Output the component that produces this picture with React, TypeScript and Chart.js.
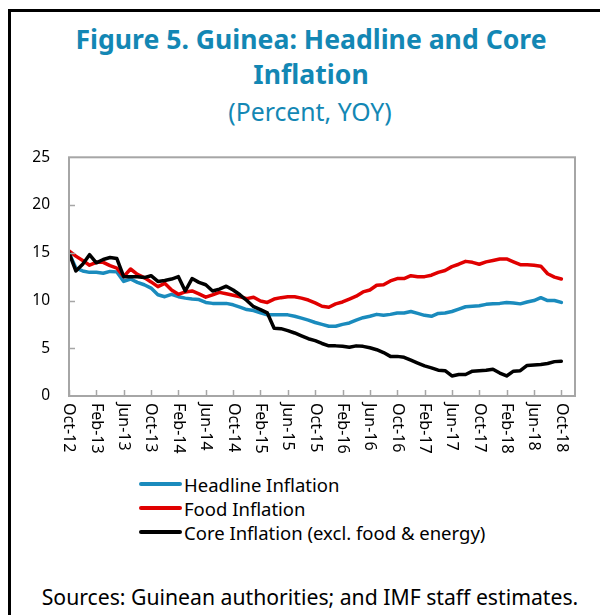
import React, { useEffect, useRef } from "react";
import { Chart, registerables } from "chart.js";

Chart.register(...registerables);

const tickLabels = [
  "Oct-12", "Feb-13", "Jun-13", "Oct-13", "Feb-14", "Jun-14", "Oct-14",
  "Feb-15", "Jun-15", "Oct-15", "Feb-16", "Jun-16", "Oct-16", "Feb-17",
  "Jun-17", "Oct-17", "Feb-18", "Jun-18", "Oct-18",
];
const tickStep = 4; // months between labelled ticks

const headline = [
  15.0, 13.4, 13.1, 12.95, 12.95, 12.85, 13.05, 13.0, 12.0, 12.25,
  11.9, 11.65, 11.3, 10.6, 10.4, 10.65, 10.4, 10.25, 10.15, 10.1,
  9.8, 9.7, 9.7, 9.7, 9.55, 9.3, 9.05, 8.95, 8.7, 8.5,
  8.5, 8.5, 8.5, 8.35, 8.15, 7.95, 7.7, 7.5, 7.3, 7.3,
  7.5, 7.65, 7.95, 8.2, 8.35, 8.55, 8.45, 8.55, 8.7, 8.7,
  8.85, 8.65, 8.45, 8.35, 8.65, 8.7, 8.85, 9.1, 9.35, 9.4,
  9.45, 9.6, 9.65, 9.7, 9.8, 9.75, 9.65, 9.85, 10.0, 10.3,
  10.0, 10.0, 9.8,
];
const food = [
  15.2, 14.65, 14.2, 13.7, 14.0, 14.0, 13.65, 13.4, 12.5, 13.3,
  12.75, 12.4, 11.95, 11.45, 11.8, 11.1, 10.65, 10.9, 11.0, 10.7,
  10.35, 10.6, 10.85, 10.7, 10.55, 10.4, 10.2, 10.35, 9.95, 9.8,
  10.15, 10.3, 10.4, 10.4, 10.25, 10.05, 9.75, 9.4, 9.3, 9.65,
  9.85, 10.15, 10.45, 10.9, 11.1, 11.6, 11.65, 12.05, 12.3, 12.3,
  12.6, 12.5, 12.5, 12.65, 12.95, 13.15, 13.55, 13.8, 14.1, 14.0,
  13.8, 14.05, 14.2, 14.35, 14.35, 14.05, 13.75, 13.75, 13.7, 13.6,
  12.8, 12.45, 12.25,
];
const core = [
  15.0, 13.1, 13.8, 14.8, 13.95, 14.3, 14.5, 14.4, 12.5, 12.5,
  12.5, 12.4, 12.6, 12.0, 12.1, 12.25, 12.5, 11.0, 12.3, 11.9,
  11.65, 11.0, 11.2, 11.5, 11.1, 10.6, 10.0, 9.35, 9.05, 8.7,
  7.1, 7.05, 6.85, 6.6, 6.3, 6.0, 5.8, 5.5, 5.25, 5.25,
  5.2, 5.1, 5.25, 5.2, 5.05, 4.85, 4.55, 4.15, 4.15, 4.05,
  3.75, 3.45, 3.15, 2.95, 2.7, 2.65, 2.1, 2.25, 2.25, 2.6,
  2.65, 2.7, 2.8, 2.4, 2.1, 2.6, 2.65, 3.2, 3.25, 3.3,
  3.4, 3.6, 3.65,
];

const seriesNames = [
  "Headline Inflation",
  "Food Inflation",
  "Core Inflation (excl. food & energy)",
];
const seriesColors = ["#1a8bbd", "#e00000", "#000000"];

const FONT = "'Noto Sans', 'Open Sans', sans-serif";
const AXIS_GRAY = "#a6a6a6";

const toPoints = (arr: number[]) => arr.map((v, i) => ({ x: i, y: v }));

const framePlugin = {
  id: "framePlugin",
  afterDraw(chart: any) {
    const { ctx, chartArea } = chart;
    const xs = chart.scales.x;
    const ys = chart.scales.y;
    ctx.save();
    ctx.strokeStyle = AXIS_GRAY;
    ctx.lineWidth = 2;
    ctx.strokeRect(chartArea.left, chartArea.top, chartArea.right - chartArea.left, chartArea.bottom - chartArea.top);
    ctx.lineWidth = 1.5;
    ctx.beginPath();
    tickLabels.forEach((_, k) => {
      const px = Math.round(xs.getPixelForValue(k * tickStep)) + 0.5;
      ctx.moveTo(px, chartArea.bottom);
      ctx.lineTo(px, chartArea.bottom - 6);
    });
    [5, 10, 15, 20].forEach((v) => {
      const py = Math.round(ys.getPixelForValue(v)) + 0.5;
      ctx.moveTo(chartArea.left, py);
      ctx.lineTo(chartArea.left + 6, py);
    });
    ctx.stroke();
    ctx.fillStyle = "#000";
    ctx.font = `16px ${FONT}`;
    ctx.textAlign = "left";
    ctx.textBaseline = "middle";
    tickLabels.forEach((lab, k) => {
      const px = xs.getPixelForValue(k * tickStep);
      ctx.save();
      ctx.translate(px, chartArea.bottom + 7);
      ctx.rotate(Math.PI / 2);
      ctx.fillText(lab, 0, 0);
      ctx.restore();
    });
    ctx.restore();
  },
};

function InflationChart() {
  const ref = useRef<HTMLCanvasElement | null>(null);
  useEffect(() => {
    if (!ref.current) return;
    const chart = new Chart(ref.current, {
      type: "line",
      data: {
        datasets: [headline, food, core].map((arr, i) => ({
          label: seriesNames[i],
          data: toPoints(arr),
          borderColor: seriesColors[i],
          backgroundColor: seriesColors[i],
          borderWidth: 3.5,
          pointRadius: 0,
          tension: 0,
          borderJoinStyle: "round" as const,
          borderCapStyle: "round" as const,
          order: 3 - i,
        })),
      },
      options: {
        animation: false,
        responsive: true,
        maintainAspectRatio: false,
        layout: { padding: { top: 16, right: 25, left: 0, bottom: 0 } },
        plugins: { legend: { display: false }, tooltip: { enabled: false }, title: { display: false } },
        scales: {
          x: {
            type: "linear",
            min: 0,
            max: 74,
            grid: { display: false, drawTicks: false },
            border: { display: false },
            ticks: { display: false },
            afterFit: (s: any) => { s.height = 74; },
          },
          y: {
            min: 0,
            max: 25,
            grid: { display: false, drawTicks: false },
            border: { display: false },
            ticks: {
              stepSize: 5,
              padding: 19,
              color: "#000",
              font: { family: FONT, size: 15.5 },
            },
            afterFit: (s: any) => { s.width = 69; },
          },
        },
      },
      plugins: [framePlugin],
    });
    return () => chart.destroy();
  }, []);
  return (
    <div style={{ position: "absolute", left: 0, top: 129, width: 600, height: 341 }}>
      <canvas ref={ref} />
    </div>
  );
}

export default function App() {
  const legendTops = [484, 508, 532];
  return (
    <div style={{ position: "absolute", left: 0, top: 0, width: 600, height: 615, overflow: "hidden", background: "#fff", fontFamily: FONT }}>
      <div style={{ position: "absolute", left: 8, top: 9, width: 800, height: 800, borderTop: "3px solid #000", borderLeft: "3px solid #000" }} />
      <div style={{ position: "absolute", left: 11, top: 22, width: 600, textAlign: "center", color: "#1387b4", fontWeight: 700, fontSize: 26.6, lineHeight: "35px", whiteSpace: "nowrap" }}>
        Figure 5. Guinea: Headline and Core
        <br />
        Inflation
      </div>
      <div style={{ position: "absolute", left: 11, top: 95, width: 598, textAlign: "center", color: "#1387b4", fontSize: 24.8, lineHeight: "32px" }}>
        (Percent, YOY)
      </div>
      <InflationChart />
      {seriesNames.map((n, i) => (
        <div key={n} style={{ position: "absolute", left: 139, top: legendTops[i] - 12, height: 24, display: "flex", alignItems: "center", fontSize: 18.5, color: "#000", whiteSpace: "nowrap" }}>
          <span style={{ display: "inline-block", width: 43, height: 4, background: seriesColors[i], borderRadius: 2, marginRight: 2 }} />
          <span>{n}</span>
        </div>
      ))}
      <div style={{ position: "absolute", left: 11, top: 585, width: 598, textAlign: "center", fontSize: 21.2, lineHeight: "24px", color: "#000", whiteSpace: "nowrap" }}>
        Sources: Guinean authorities; and IMF staff estimates.
      </div>
    </div>
  );
}
